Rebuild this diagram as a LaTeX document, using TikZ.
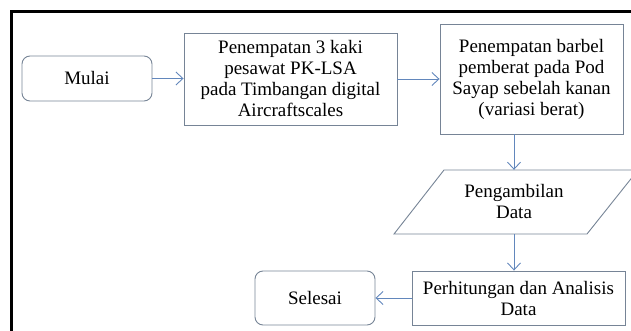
\documentclass[tikz,border=0pt]{standalone}
\usepackage{fontspec}
\setmainfont{Liberation Serif}
\usetikzlibrary{arrows.meta}
\definecolor{boxline}{RGB}{118,132,150}
\definecolor{arrowline}{RGB}{98,135,188}
\begin{document}
\begin{tikzpicture}[x=1pt,y=-1pt,
  every node/.style={font=\fontsize{19}{21}\selectfont, align=center, inner sep=0pt},
  procbox/.style={draw=boxline, line width=0.9pt},
  termbox/.style={draw=boxline, line width=0.9pt, rounded corners=8pt},
  arr/.style={draw=arrowline, line width=0.9pt, -{Straight Barb[length=7pt,width=13pt]}}]
\useasboundingbox (0,0) rectangle (631,331);
\clip (0,0) rectangle (631,331);
% frame
\draw[line width=2.5pt] (11.5,331) -- (11.5,11.5) -- (640,11.5);
% nodes
\node[termbox, minimum width=130pt, minimum height=45pt] (mulai) at (87,78.5) {Mulai};
\node[procbox, minimum width=213pt, minimum height=92pt] (b1) at (290.5,79) {Penempatan 3 kaki\\pesawat PK-LSA\\pada Timbangan digital\\Aircraftscales};
\node[procbox, minimum width=183pt, minimum height=110pt] (b2) at (531.5,79) {Penempatan barbel\\pemberat pada Pod\\Sayap sebelah kanan\\(variasi berat)};
\node[minimum width=150pt, minimum height=64pt] (para) at (514,202) {Pengambilan\\Data};
\coordinate (ptl) at (444,170);
\coordinate (ptr) at (638,170);
\coordinate (pbr) at (587,234);
\coordinate (pbl) at (394,234);
\draw[procbox] (ptl) -- (ptr) -- (pbr) -- (pbl) -- cycle;
\node[procbox, minimum width=213pt, minimum height=54pt] (b3) at (518.5,298) {Perhitungan dan Analisis\\Data};
\node[termbox, minimum width=120pt, minimum height=54pt] (selesai) at (315,298) {Selesai};
% connectors
\draw[arr] (mulai.east) -- (mulai.east -| b1.west);
\draw[arr] (b1.east) -- (b1.east -| b2.west);
\draw[arr] (para.north |- b2.south) -- (para.north);
\draw[arr] (para.south) -- (para.south |- b3.north);
\draw[arr] (b3.west) -- (selesai.east);
\end{tikzpicture}
\end{document}
